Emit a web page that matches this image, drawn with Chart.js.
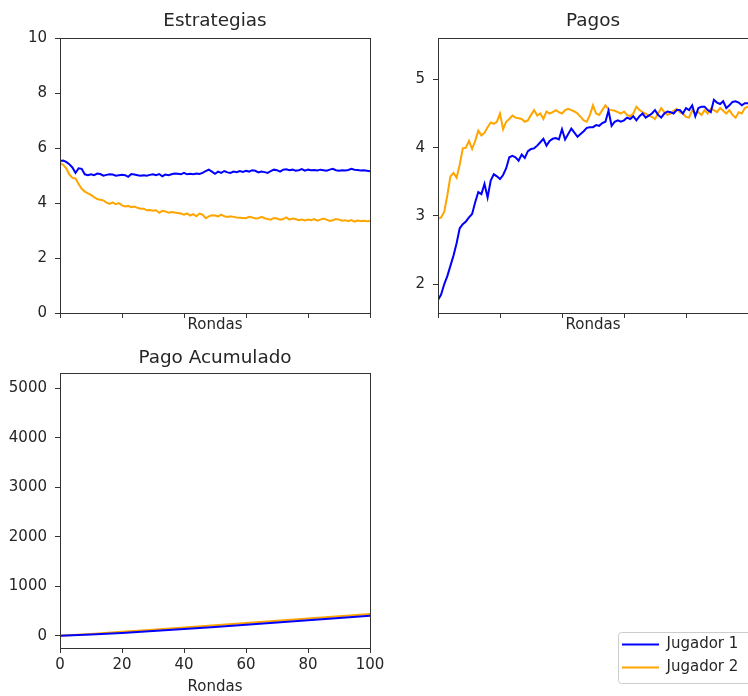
<!DOCTYPE html>
<html>
<head>
<meta charset="utf-8">
<script src="https://cdn.jsdelivr.net/npm/chart.js@4.4.1/dist/chart.umd.min.js"></script>
<style>
  body { margin: 0; background: #fff; width: 748px; height: 696px; overflow: hidden; position: relative; }
  canvas { position: absolute; }
</style>
</head>
<body>
<canvas id="estrategias" width="380" height="340" style="left:0;top:0;width:380px;height:340px"></canvas>
<canvas id="pagos" width="370" height="340" style="left:378px;top:0;width:370px;height:340px"></canvas>
<canvas id="acumulado" width="400" height="356" style="left:0;top:340px;width:400px;height:356px"></canvas>
<canvas id="leyenda" width="134" height="130" style="left:614px;top:629px;width:134px;height:130px"></canvas>
<script>
// datos
const jugadores = ["Jugador 1", "Jugador 2"];
const ticksRondas = [0, 20, 40, 60, 80, 100];
const ticksEstrategias = [0, 2, 4, 6, 8, 10];
const ticksPagos = [2, 3, 4, 5];
const ticksAcumulado = [0, 1000, 2000, 3000, 4000, 5000];

const estrategiaJ1 = [5.53, 5.55, 5.50, 5.42, 5.30, 5.10, 5.27, 5.25, 5.05, 5.02,
  5.05, 5.02, 5.08, 5.06, 5.00, 5.03, 5.05, 5.04, 5.00, 5.02,
  5.03, 5.02, 4.96, 5.06, 5.04, 5.02, 5.00, 5.02, 5.00, 5.03,
  5.05, 5.02, 5.06, 4.98, 5.04, 5.02, 5.05, 5.08, 5.07, 5.05,
  5.10, 5.05, 5.07, 5.05, 5.08, 5.06, 5.10, 5.17, 5.22, 5.15,
  5.07, 5.15, 5.10, 5.17, 5.12, 5.10, 5.15, 5.13, 5.17, 5.14,
  5.18, 5.15, 5.20, 5.18, 5.12, 5.15, 5.13, 5.10, 5.17, 5.22,
  5.20, 5.15, 5.22, 5.23, 5.20, 5.22, 5.18, 5.20, 5.24, 5.18,
  5.22, 5.20, 5.21, 5.19, 5.22, 5.20, 5.18, 5.22, 5.25, 5.20,
  5.18, 5.20, 5.19, 5.21, 5.25, 5.22, 5.21, 5.19, 5.20, 5.18, 5.16];
const estrategiaJ2 = [5.45, 5.40, 5.27, 5.05, 4.92, 4.90, 4.70, 4.52, 4.42, 4.36,
  4.30, 4.22, 4.15, 4.12, 4.10, 4.02, 3.97, 4.03, 3.96, 4.00,
  3.92, 3.88, 3.90, 3.85, 3.88, 3.83, 3.80, 3.80, 3.74, 3.75,
  3.72, 3.74, 3.65, 3.72, 3.70, 3.65, 3.68, 3.66, 3.64, 3.62,
  3.58, 3.63, 3.55, 3.60, 3.52, 3.62, 3.58, 3.45, 3.52, 3.56,
  3.55, 3.52, 3.58, 3.52, 3.50, 3.52, 3.50, 3.48, 3.47, 3.46,
  3.45, 3.50, 3.48, 3.44, 3.45, 3.50, 3.45, 3.42, 3.40, 3.46,
  3.44, 3.40, 3.42, 3.48, 3.40, 3.44, 3.42, 3.38, 3.40, 3.37,
  3.40, 3.38, 3.42, 3.36, 3.40, 3.44, 3.40, 3.35, 3.38, 3.42,
  3.40, 3.36, 3.38, 3.34, 3.38, 3.33, 3.37, 3.35, 3.36, 3.34, 3.35];
const pagoJ1 = [1.77, 1.85, 2.00, 2.12, 2.27, 2.42, 2.60, 2.82, 2.88, 2.92,
  2.98, 3.03, 3.20, 3.35, 3.32, 3.47, 3.27, 3.52, 3.61, 3.58,
  3.54, 3.60, 3.70, 3.86, 3.88, 3.86, 3.81, 3.90, 3.85, 3.95,
  3.98, 3.99, 4.03, 4.08, 4.13, 4.03, 4.10, 4.13, 4.14, 4.12,
  4.27, 4.12, 4.20, 4.28, 4.22, 4.16, 4.20, 4.24, 4.29, 4.30,
  4.30, 4.33, 4.32, 4.36, 4.38, 4.54, 4.32, 4.38, 4.40, 4.38,
  4.40, 4.44, 4.42, 4.46, 4.40, 4.46, 4.50, 4.44, 4.47, 4.50,
  4.55, 4.48, 4.44, 4.50, 4.53, 4.52, 4.50, 4.55, 4.55, 4.50,
  4.58, 4.55, 4.62, 4.46, 4.58, 4.60, 4.60, 4.55, 4.52, 4.70,
  4.66, 4.64, 4.68, 4.58, 4.62, 4.67, 4.68, 4.66, 4.62, 4.65, 4.65];
const pagoJ2 = [2.96, 2.98, 3.06, 3.30, 3.58, 3.63, 3.56, 3.75, 3.99, 4.00,
  4.10, 3.98, 4.10, 4.25, 4.18, 4.22, 4.30, 4.37, 4.35, 4.38,
  4.50, 4.27, 4.38, 4.42, 4.47, 4.44, 4.43, 4.42, 4.38, 4.40,
  4.48, 4.55, 4.47, 4.50, 4.42, 4.53, 4.50, 4.52, 4.55, 4.52,
  4.50, 4.55, 4.57, 4.55, 4.53, 4.50, 4.45, 4.40, 4.38, 4.48,
  4.62, 4.50, 4.48, 4.55, 4.62, 4.56, 4.55, 4.54, 4.52, 4.50,
  4.53, 4.48, 4.46, 4.50, 4.60, 4.55, 4.52, 4.50, 4.47, 4.45,
  4.42, 4.50, 4.58, 4.52, 4.48, 4.50, 4.54, 4.57, 4.52, 4.50,
  4.45, 4.44, 4.55, 4.50, 4.52, 4.48, 4.55, 4.50, 4.57, 4.55,
  4.52, 4.58, 4.54, 4.50, 4.55, 4.48, 4.44, 4.52, 4.50, 4.58, 4.60];
const rondasAcumulado = [0, 10, 20, 30, 40, 50, 60, 70, 80, 90, 100];
const acumuladoJ1 = [0, 24, 57, 95, 136, 178, 222, 267, 312, 358, 404];
const acumuladoJ2 = [0, 36, 78, 123, 168, 213, 258, 304, 349, 394, 440];

const AZUL = "#0000ff";
const NARANJA = "#ffa500";
const TEXTO = "#262626";
const EJE = "#333333";

Chart.defaults.font.family = "'DejaVu Sans', sans-serif";
Chart.defaults.color = TEXTO;

// recuadro de los ejes, como los "spines" de matplotlib
const marco = {
  id: "marco",
  afterDatasetsDraw(chart) {
    const a = chart.chartArea, ctx = chart.ctx;
    ctx.save();
    ctx.strokeStyle = EJE;
    ctx.lineWidth = 1;
    ctx.strokeRect(Math.round(a.left) + 0.5, Math.round(a.top) + 0.5,
      Math.round(a.right - a.left), Math.round(a.bottom - a.top));
    ctx.restore();
  }
};

function puntos(xs, ys) {
  return ys.map((y, i) => ({ x: xs ? xs[i] : i, y: y }));
}

function serie(label, color, data) {
  return { label: label, data: data, borderColor: color, backgroundColor: color,
    borderWidth: 2, pointRadius: 0, tension: 0, fill: false };
}

function ejeX(conEtiquetas, alto, padTitulo) {
  return {
    type: "linear", min: 0, max: 100,
    afterBuildTicks: s => { s.ticks = ticksRondas.map(v => ({ value: v })); },
    ticks: { display: conEtiquetas, font: { size: 15 }, padding: 3, maxRotation: 0, autoSkip: false,
      callback: v => String(v) },
    grid: { drawOnChartArea: false, drawTicks: true, tickLength: 5, tickColor: EJE, tickWidth: 1 },
    border: { display: false },
    title: { display: true, text: "Rondas", font: { size: 15 }, padding: { top: 0, bottom: padTitulo } },
    afterFit: s => { s.height = alto; }
  };
}

function ejeY(min, max, ticks) {
  return {
    type: "linear", min: min, max: max,
    afterBuildTicks: s => { s.ticks = ticks.map(v => ({ value: v })); },
    ticks: { font: { size: 15 }, padding: 8, autoSkip: false, callback: v => String(v) },
    grid: { drawOnChartArea: false, drawTicks: true, tickLength: 5, tickColor: EJE, tickWidth: 1 },
    border: { display: false },
    afterFit: s => { s.width = 60; }
  };
}

function titulo(texto, arriba, abajo) {
  return { display: true, text: texto, fullSize: false, color: TEXTO,
    font: { size: 18.4, weight: "normal" }, padding: { top: arriba, bottom: abajo } };
}

new Chart(document.getElementById("estrategias"), {
  type: "line",
  data: { datasets: [
    serie(jugadores[0], AZUL, puntos(null, estrategiaJ1)),
    serie(jugadores[1], NARANJA, puntos(null, estrategiaJ2))
  ] },
  options: {
    responsive: false, animation: false,
    layout: { padding: { left: 0, right: 10, top: 0, bottom: 0 } },
    scales: { x: ejeX(false, 27, 6), y: ejeY(0, 10, ticksEstrategias) },
    plugins: { legend: { display: false }, tooltip: { enabled: false },
      title: titulo("Estrategias", 10, 6.3) }
  },
  plugins: [marco]
});

new Chart(document.getElementById("pagos"), {
  type: "line",
  data: { datasets: [
    serie(jugadores[0], AZUL, puntos(null, pagoJ1)),
    serie(jugadores[1], NARANJA, puntos(null, pagoJ2))
  ] },
  options: {
    responsive: false, animation: false,
    layout: { padding: { left: 0, right: 0, top: 0, bottom: 0 } },
    scales: { x: ejeX(false, 27, 6), y: ejeY(1.58, 5.6, ticksPagos) },
    plugins: { legend: { display: false }, tooltip: { enabled: false },
      title: titulo("Pagos", 10, 6.3) }
  },
  plugins: [marco]
});

new Chart(document.getElementById("acumulado"), {
  type: "line",
  data: { datasets: [
    serie(jugadores[0], AZUL, puntos(rondasAcumulado, acumuladoJ1)),
    serie(jugadores[1], NARANJA, puntos(rondasAcumulado, acumuladoJ2))
  ] },
  options: {
    responsive: false, animation: false,
    layout: { padding: { left: 0, right: 30, top: 0, bottom: 0 } },
    scales: { x: ejeX(true, 48, 0), y: ejeY(-248, 5303, ticksAcumulado) },
    plugins: { legend: { display: false }, tooltip: { enabled: false },
      title: titulo("Pago Acumulado", 7.3, 4) }
  },
  plugins: [marco]
});

// leyenda aparte, abajo a la derecha
const marcoLeyenda = {
  id: "marcoLeyenda",
  beforeDraw(chart) {
    const ctx = chart.ctx;
    ctx.save();
    ctx.fillStyle = "rgba(255,255,255,0.8)";
    ctx.strokeStyle = "#cccccc";
    ctx.lineWidth = 1;
    ctx.beginPath();
    ctx.roundRect(4.5, 3.5, 150, 51, 3);
    ctx.fill();
    ctx.stroke();
    ctx.restore();
  }
};

new Chart(document.getElementById("leyenda"), {
  type: "line",
  data: { datasets: [
    serie(jugadores[0], AZUL, []),
    serie(jugadores[1], NARANJA, [])
  ] },
  options: {
    responsive: false, animation: false,
    layout: { padding: 0 },
    scales: { x: { display: false }, y: { display: false } },
    plugins: {
      tooltip: { enabled: false },
      legend: { position: "top", align: "start",
        labels: { usePointStyle: true, pointStyle: "line", pointStyleWidth: 37,
          font: { size: 15 }, padding: 8, color: TEXTO } }
    }
  },
  plugins: [marcoLeyenda]
});
</script>
</body>
</html>
